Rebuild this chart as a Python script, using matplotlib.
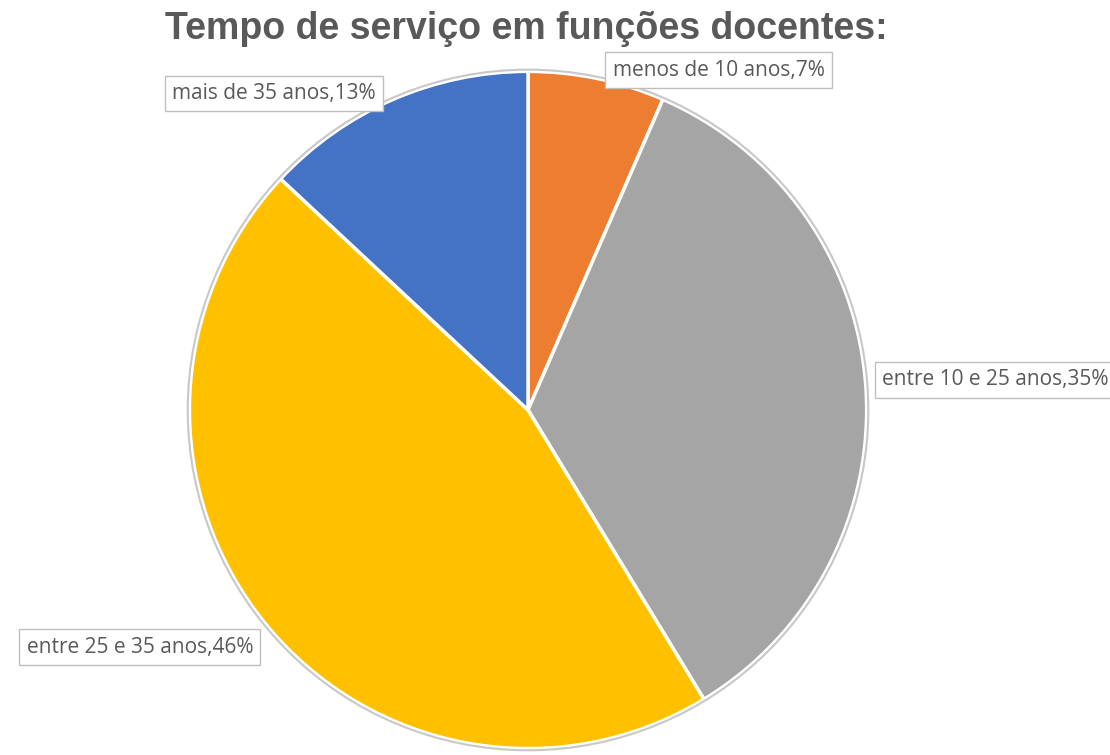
import matplotlib
matplotlib.use("Agg")
import matplotlib.pyplot as plt
from matplotlib.patches import Circle

# respostas por escalão de tempo de serviço
categorias = ["menos de 10 anos", "entre 10 e 25 anos", "entre 25 e 35 anos", "mais de 35 anos"]
contagens = [3, 16, 21, 6]
cores = ["#ED7D31", "#A5A5A5", "#FFC000", "#4472C4"]

# posicao dos rotulos (fracao da figura, canto esquerdo / centro vertical)
pos_rotulos = [(0.552, 0.907), (0.795, 0.497), (0.024, 0.143), (0.155, 0.876)]

fig = plt.figure(figsize=(11.1, 7.55), dpi=100)
ax = fig.add_axes([0.1676, 0.004, 0.6162, 0.906])

wedges, _ = ax.pie(contagens, colors=cores, startangle=90, counterclock=False,
                   radius=1.0, wedgeprops=dict(edgecolor="white", linewidth=2.5))
ax.add_patch(Circle((0, 0), 1.005, fill=False, edgecolor="#C8C8C8", linewidth=1.5))
ax.set_xlim(-1.01, 1.01)
ax.set_ylim(-1.01, 1.01)
ax.axis("off")

total = sum(contagens)
for nome, n, (x, y) in zip(categorias, contagens, pos_rotulos):
    txt = "%s,%d%%" % (nome, round(100 * n / total))
    fig.text(x, y, txt, ha="left", va="center", fontsize=15, color="#595959",
             family="Open Sans",
             bbox=dict(boxstyle="square,pad=0.35", facecolor="white", edgecolor="#BFBFBF", linewidth=1))

fig.text(0.474, 0.962, "Tempo de serviço em funções docentes:", ha="center", va="center",
         fontsize=27, fontweight="bold", color="#595959", family="Liberation Sans")

fig.savefig("out.png", dpi=100)
